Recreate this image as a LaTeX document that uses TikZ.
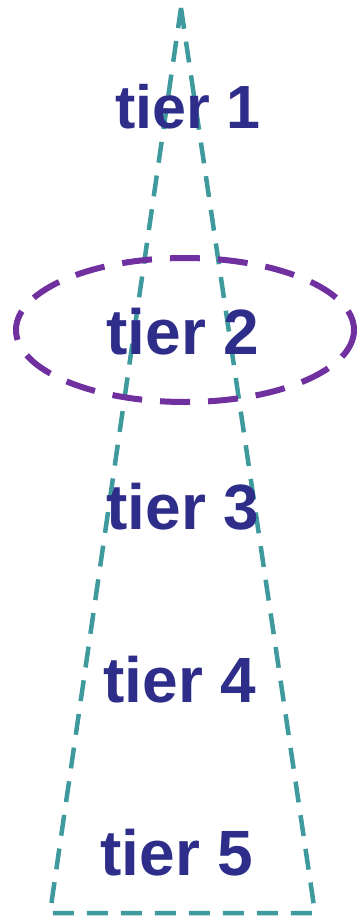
\documentclass[tikz,border=0pt]{standalone}
\usepackage{fontspec}
\setmainfont{Liberation Sans}
\definecolor{tiertext}{HTML}{2E2E8A}
\definecolor{teal}{HTML}{3E9A9C}
\definecolor{purp}{HTML}{7030A0}
\begin{document}
\begin{tikzpicture}[x=1pt,y=-1pt,
  tierlabel/.style={font=\fontsize{64}{64}\selectfont\bfseries, text=tiertext, anchor=base, inner sep=0pt},
  cone/.style={draw=teal, line width=4.5pt, dash pattern=on 21pt off 13pt},
  focus/.style={draw=purp, line width=6pt, dash pattern=on 30pt off 18pt}]
\useasboundingbox (0,0) rectangle (358,920);
\coordinate (apex) at (181,8);
\coordinate (bl) at (50,913);
\coordinate (br) at (315,913);
\draw[cone] (apex) -- (br) -- (bl) -- cycle;
\node[tierlabel, font=\fontsize{61}{61}\selectfont\bfseries] (t1) at (188,129) {tier 1};
\node[tierlabel] (t2) at (183,354) {tier 2};
\node[tierlabel] (t3) at (183,529) {tier 3};
\node[tierlabel] (t4) at (180,702) {tier 4};
\node[tierlabel] (t5) at (177,875) {tier 5};
\draw[focus] (185,330) ellipse [x radius=169, y radius=72];
\end{tikzpicture}
\end{document}
